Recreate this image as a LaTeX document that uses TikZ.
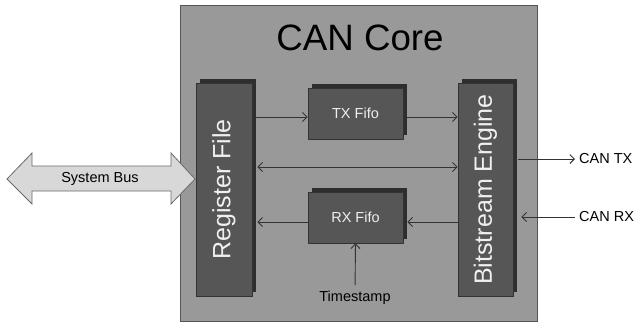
\documentclass[tikz,border=0pt]{standalone}
\usepackage{fontspec}
\setmainfont{Liberation Sans}
\usepackage{graphicx}
\usetikzlibrary{arrows.meta,shadows,calc}

\definecolor{coregray}{HTML}{999999}
\definecolor{coreline}{HTML}{555555}
\definecolor{blockfill}{HTML}{565656}
\definecolor{blockline}{HTML}{333333}
\definecolor{blockshadow}{HTML}{2E2E2E}
\definecolor{wirecol}{HTML}{333333}
\definecolor{busfill}{HTML}{D8D8D8}
\definecolor{busline}{HTML}{6A6A6A}

\tikzset{
  block/.style={draw=blockline, fill=blockfill, line width=0.8pt,
    text=white!94!black, inner sep=0pt, font=\fontsize{14.5}{16}\selectfont,
    general shadow={fill=blockshadow, shadow xshift=4pt, shadow yshift=4pt}},
  tallblock/.style={block, font=\fontsize{25}{28}\selectfont},
  wire/.style={draw=wirecol, line width=0.9pt,
    -{Straight Barb[length=4.5pt,width=9pt,line width=0.9pt]}},
  wire2/.style={wire, {Straight Barb[length=4.5pt,width=9pt,line width=0.9pt]}-{Straight Barb[length=4.5pt,width=9pt,line width=0.9pt]}},
  lbl/.style={font=\fontsize{14.5}{16}\selectfont, text=black, inner sep=0pt},
}

\begin{document}
\begin{tikzpicture}[x=1pt, y=-1pt]
  \useasboundingbox (0,0) rectangle (635,325);

  % enclosing core
  \node[draw=coreline, fill=coregray, line width=1pt, minimum width=357pt,
        minimum height=316pt, inner sep=0pt] (core) at (358.5,163) {};
  \node[lbl, font=\fontsize{36.7}{40}\selectfont] (title) at (360,38) {CAN Core};

  % functional blocks
  \node[tallblock, minimum width=56pt, minimum height=213pt] (reg) at (224,189.5)
       {\rotatebox{90}{Register File}};
  \node[tallblock, minimum width=55pt, minimum height=213pt] (bit) at (485.5,189.5)
       {\rotatebox{90}{Bitstream Engine}};
  \node[block, minimum width=95pt, minimum height=51pt] (tx) at (355.5,113.5) {TX Fifo};
  \node[block, minimum width=95pt, minimum height=51pt] (rx) at (355.5,217.5) {RX Fifo};

  % external labels
  \node[lbl, anchor=center] (ts) at (355,298) {Timestamp};
  \node[lbl, anchor=west] (cantx) at (579,159) {CAN TX};
  \node[lbl, anchor=west] (canrx) at (579,217) {CAN RX};

  % system bus arrow
  \draw[draw=busline, fill=busfill, line width=0.8pt]
    (7,179) -- (32,153) -- (32,166) -- (171,166) -- (171,153) -- (195,179)
    -- (171,204) -- (171,191) -- (32,191) -- (32,204) -- cycle;
  \node[lbl] (bus) at (100,179) {System Bus};

  % data paths
  \draw[wire] ([xshift=4pt,yshift=-3.5pt]reg.east |- tx.west) -- ([yshift=-3.5pt]tx.west);
  \draw[wire] ([xshift=4pt,yshift=-3.5pt]tx.east) -- ([yshift=-3.5pt]bit.west |- tx.east);
  \draw[wire2] ([xshift=5pt]reg.east |- 0,167) -- (bit.west |- 0,167);
  \draw[wire] ([yshift=-4.5pt]bit.west |- rx.east) -- ([xshift=4pt,yshift=-4.5pt]rx.east);
  \draw[wire] ([yshift=-4.5pt]rx.west) -- ([xshift=5pt,yshift=-4.5pt]reg.east |- rx.west);
  \draw[wire, shorten <=6pt] (ts.north) -- (rx.south);

  % CAN lines
  \draw[wire] ([xshift=5pt]bit.east |- cantx.west) -- ([xshift=-4pt]cantx.west);
  \draw[wire] ([xshift=-4pt]canrx.west) -- ([xshift=8pt]bit.east |- canrx.west);
\end{tikzpicture}
\end{document}
